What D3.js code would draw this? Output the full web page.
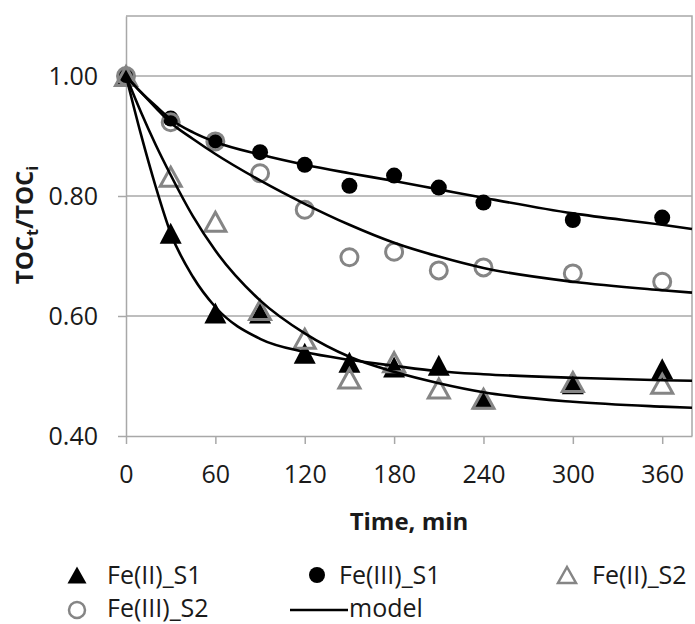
<!DOCTYPE html>
<html>
<head>
<meta charset="utf-8">
<script src="https://cdn.jsdelivr.net/npm/d3@7"></script>
<style>
  body { margin: 0; background: #ffffff; }
  text { font-family: "Open Sans", sans-serif; fill: #1a1a1a; }
  .tick text { font-size: 25px; }
  .axisTitle { font-weight: bold; font-size: 24px; }
  .legendText { font-size: 25px; }
</style>
</head>
<body>
<div id="chart"></div>
<script>
// measured times (min)
var times = [0, 30, 60, 90, 120, 150, 180, 210, 240, 300, 360];

// TOCt/TOCi for each run
var feII_S1 = [1.00, 0.738, 0.605, 0.605, 0.538, 0.523, 0.515, 0.518, 0.462, 0.487, 0.512];
var feIII_S1 = [1.00, 0.929, 0.892, 0.873, 0.852, 0.817, 0.834, 0.814, 0.789, 0.760, 0.764];
var feII_S2 = [1.00, 0.832, 0.757, 0.610, 0.562, 0.496, 0.523, 0.479, 0.462, 0.490, 0.487];
var feIII_S2 = [1.00, 0.923, 0.891, 0.838, 0.777, 0.698, 0.707, 0.676, 0.681, 0.671, 0.657];

// model curves, sampled off the figure
var modelTimes = [0, 10, 20, 30, 45, 60, 90, 120, 150, 180, 210, 240, 300, 360, 380];
var modelFeIII_S1 = [1.00, 0.973, 0.950, 0.928, 0.906, 0.890, 0.869, 0.852, 0.838, 0.825, 0.811, 0.797, 0.771, 0.752, 0.745];
var modelFeIII_S2 = [1.00, 0.973, 0.947, 0.922, 0.895, 0.870, 0.826, 0.787, 0.752, 0.722, 0.699, 0.680, 0.657, 0.643, 0.639];
var modelFeII_S1 = [1.00, 0.903, 0.815, 0.738, 0.665, 0.615, 0.562, 0.540, 0.527, 0.517, 0.508, 0.503, 0.497, 0.493, 0.492];
var modelFeII_S2 = [1.00, 0.940, 0.885, 0.835, 0.766, 0.709, 0.626, 0.571, 0.532, 0.507, 0.488, 0.473, 0.457, 0.449, 0.447];

var xTicks = [0, 60, 120, 180, 240, 300, 360];
var yTicks = [0.40, 0.60, 0.80, 1.00];

var svgWidth = 695;
var svgHeight = 624;

var margin = {
  top: 16,
  right: 3,
  bottom: 188,
  left: 126
};

var width = svgWidth - margin.left - margin.right;
var height = svgHeight - margin.top - margin.bottom;

var gridColor = "#a8a8a8";
var grey = "#858585";

var svg = d3.select("#chart")
  .append("svg")
  .attr("width", svgWidth)
  .attr("height", svgHeight);

var chartGroup = svg.append("g")
  .attr("transform", `translate(${margin.left}, ${margin.top})`);

var xScale = d3.scaleLinear().domain([0, 380]).range([0, width]);
var yScale = d3.scaleLinear().domain([0.4, 1.1]).range([height, 0]);

// gridlines + plot border
chartGroup.selectAll(".grid")
  .data(yTicks.slice(1))
  .enter()
  .append("line")
  .attr("x1", 0)
  .attr("x2", width)
  .attr("y1", d => yScale(d))
  .attr("y2", d => yScale(d))
  .attr("stroke", gridColor)
  .attr("stroke-width", 1.5);

chartGroup.append("path")
  .attr("d", `M0,0H${width}V${height}`)
  .attr("fill", "none")
  .attr("stroke", gridColor)
  .attr("stroke-width", 1.5);

// axes
var bottomAxis = d3.axisBottom(xScale)
  .tickValues(xTicks)
  .tickSize(8)
  .tickSizeOuter(0)
  .tickPadding(21);

var leftAxis = d3.axisLeft(yScale)
  .tickValues(yTicks)
  .tickFormat(d3.format(".2f"))
  .tickSize(8)
  .tickSizeOuter(0)
  .tickPadding(20);

var xAxis = chartGroup.append("g")
  .attr("transform", `translate(0, ${height})`)
  .call(bottomAxis);

var yAxis = chartGroup.append("g")
  .call(leftAxis);

[xAxis, yAxis].forEach(function(ax) {
  ax.selectAll("path, line").attr("stroke", gridColor).attr("stroke-width", 1.5);
  ax.selectAll("text").attr("font-family", null);
});

// marker helpers
function triPath(cx, cy, w, h) {
  return `M${cx},${cy - h / 2}L${cx + w / 2},${cy + h / 2}L${cx - w / 2},${cy + h / 2}Z`;
}

function drawTriangles(data, filled) {
  chartGroup.append("g")
    .selectAll("path")
    .data(data)
    .enter()
    .append("path")
    .attr("d", (d, i) => filled
      ? triPath(xScale(times[i]), yScale(d), 22, 21)
      : triPath(xScale(times[i]), yScale(d), 21, 19))
    .attr("fill", filled ? "#000" : "none")
    .attr("stroke", filled ? "none" : grey)
    .attr("stroke-width", 3)
    .attr("stroke-linejoin", "miter");
}

function drawCircles(data, filled) {
  chartGroup.append("g")
    .selectAll("circle")
    .data(data)
    .enter()
    .append("circle")
    .attr("cx", (d, i) => xScale(times[i]))
    .attr("cy", d => yScale(d))
    .attr("r", filled ? 8 : 8.5)
    .attr("fill", filled ? "#000" : "none")
    .attr("stroke", filled ? "none" : grey)
    .attr("stroke-width", 3);
}

drawTriangles(feII_S1, true);
drawCircles(feIII_S1, true);
drawTriangles(feII_S2, false);
drawCircles(feIII_S2, false);

// model lines
var line = d3.line()
  .x(d => xScale(d[0]))
  .y(d => yScale(d[1]))
  .curve(d3.curveMonotoneX);

[modelFeIII_S1, modelFeIII_S2, modelFeII_S1, modelFeII_S2].forEach(function(vals) {
  chartGroup.append("path")
    .datum(modelTimes.map((t, i) => [t, vals[i]]))
    .attr("d", line)
    .attr("fill", "none")
    .attr("stroke", "#000")
    .attr("stroke-width", 2.6);
});

// axis titles
svg.append("text")
  .attr("class", "axisTitle")
  .attr("x", margin.left + width / 2)
  .attr("y", 530)
  .attr("text-anchor", "middle")
  .text("Time, min");

var yTitle = svg.append("text")
  .attr("class", "axisTitle")
  .attr("transform", "translate(33, 225) rotate(-90)")
  .attr("text-anchor", "middle");
yTitle.append("tspan").text("TOC");
yTitle.append("tspan").attr("dy", 5).attr("font-size", "16px").text("t");
yTitle.append("tspan").attr("dy", -5).text("/TOC");
yTitle.append("tspan").attr("dy", 5).attr("font-size", "16px").text("i");

// legend
var legend = svg.append("g");

legend.append("path").attr("d", triPath(77, 575, 19, 17)).attr("fill", "#000");
legend.append("text").attr("class", "legendText").attr("x", 107).attr("y", 584).text("Fe(II)_S1");

legend.append("circle").attr("cx", 317).attr("cy", 575).attr("r", 8).attr("fill", "#000");
legend.append("text").attr("class", "legendText").attr("x", 339).attr("y", 584).text("Fe(III)_S1");

legend.append("path").attr("d", triPath(567, 575, 18, 16))
  .attr("fill", "none").attr("stroke", grey).attr("stroke-width", 2.5);
legend.append("text").attr("class", "legendText").attr("x", 592).attr("y", 584).text("Fe(II)_S2");

legend.append("circle").attr("cx", 77).attr("cy", 610).attr("r", 8)
  .attr("fill", "none").attr("stroke", grey).attr("stroke-width", 2.5);
legend.append("text").attr("class", "legendText").attr("x", 107).attr("y", 617).text("Fe(III)_S2");

legend.append("line").attr("x1", 290).attr("x2", 348).attr("y1", 610).attr("y2", 610)
  .attr("stroke", "#000").attr("stroke-width", 2.5);
legend.append("text").attr("class", "legendText").attr("x", 349).attr("y", 617).text("model");
</script>
</body>
</html>
